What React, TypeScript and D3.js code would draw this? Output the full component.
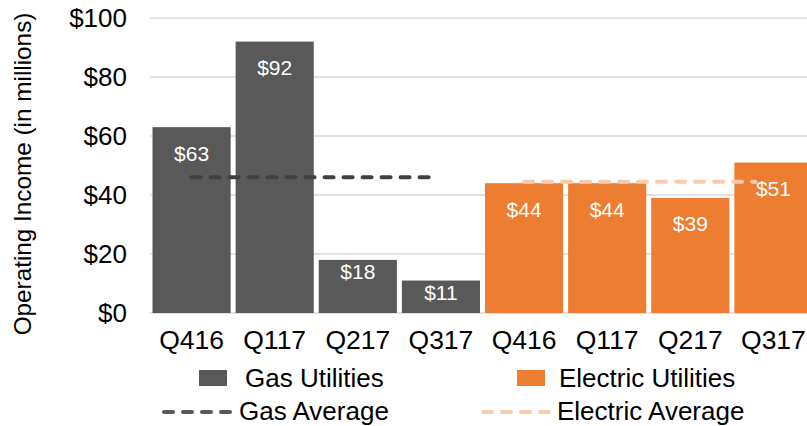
import React from "react";
import * as d3 from "d3";

// Data
const quarters = ["Q416", "Q117", "Q217", "Q317"];
const gasValues = [63, 92, 18, 11];
const electricValues = [44, 44, 39, 51];
const gasAverage = 46;
const electricAverage = 44.5;
const yTicks = [0, 20, 40, 60, 80, 100];

const GAS = "#595959";
const ELECTRIC = "#ED7D31";
const GAS_AVG = "#404040";
const ELECTRIC_AVG = "#F8CBAD";
const FONT = "'Liberation Sans', Arial, sans-serif";

const width = 807;
const height = 426;

export default function App() {
  // categories: gas quarters followed by electric quarters
  const bars = [
    ...quarters.map((q, i) => ({ key: `g${i}`, label: q, value: gasValues[i], color: GAS })),
    ...quarters.map((q, i) => ({ key: `e${i}`, label: q, value: electricValues[i], color: ELECTRIC })),
  ];

  const x = d3
    .scaleBand<string>()
    .domain(bars.map((d) => d.key))
    .range([150, 815])
    .paddingInner(0.06)
    .paddingOuter(0.03);
  const y = d3.scaleLinear().domain([0, 100]).range([313, 18]);
  const bw = x.bandwidth();

  // average lines span from centre of first bar to inside the last bar
  const avgLines = [
    { value: gasAverage, color: GAS_AVG, x1: x("g0")! + bw / 2, x2: x("g3")! + bw * 0.45 },
    { value: electricAverage, color: ELECTRIC_AVG, x1: x("e0")! + bw / 2, x2: x("e3")! + bw * 0.27 },
  ];

  return (
    <svg
      width={width}
      height={height}
      style={{ position: "absolute", left: 0, top: 0, background: "#fff" }}
      fontFamily={FONT}
    >
      {/* gridlines */}
      {yTicks.map((t) => (
        <line key={t} x1={150} x2={width} y1={y(t)} y2={y(t)} stroke="#D9D9D9" strokeWidth={1.5} />
      ))}

      {/* y tick labels */}
      {yTicks.map((t) => (
        <text key={t} x={127} y={y(t)} textAnchor="end" dominantBaseline="central" fontSize={26} fill="#000">
          {`$${t}`}
        </text>
      ))}

      {/* y axis title */}
      <text
        transform={`translate(22,${174}) rotate(-90)`}
        textAnchor="middle"
        dominantBaseline="central"
        fontSize={24.3}
        fill="#000"
      >
        Operating Income (in millions)
      </text>

      {/* bars */}
      {bars.map((d) => {
        const top = y(d.value);
        const h = y(0) - top;
        const off = h < 60 ? 12 : 26;
        return (
          <g key={d.key}>
            <rect x={x(d.key)} y={top} width={bw} height={h} fill={d.color} />
            <text
              x={x(d.key)! + bw / 2}
              y={top + off}
              textAnchor="middle"
              dominantBaseline="central"
              fontSize={21}
              fill="#fff"
            >
              {`$${d.value}`}
            </text>
            <text
              x={x(d.key)! + bw / 2}
              y={340}
              textAnchor="middle"
              dominantBaseline="central"
              fontSize={26.5}
              fill="#000"
            >
              {d.label}
            </text>
          </g>
        );
      })}

      {/* average lines */}
      {avgLines.map((l, i) => (
        <line
          key={i}
          x1={l.x1}
          x2={l.x2}
          y1={y(l.value)}
          y2={y(l.value)}
          stroke={l.color}
          strokeWidth={4}
          strokeDasharray="9 10"
          strokeLinecap="round"
        />
      ))}

      {/* legend */}
      <g fontSize={26} fill="#000">
        <rect x={199} y={370} width={28} height={16} fill={GAS} />
        <text x={245} y={378} dominantBaseline="central">Gas Utilities</text>
        <rect x={517} y={370} width={28} height={16} fill={ELECTRIC} />
        <text x={559} y={378} dominantBaseline="central">Electric Utilities</text>

        <line x1={164} x2={235} y1={412} y2={412} stroke={GAS} strokeWidth={4} strokeDasharray="9 10" strokeLinecap="round" />
        <text x={239} y={411} dominantBaseline="central">Gas Average</text>
        <line x1={483} x2={552} y1={412} y2={412} stroke={ELECTRIC_AVG} strokeWidth={4} strokeDasharray="9 10" strokeLinecap="round" />
        <text x={557} y={411} dominantBaseline="central">Electric Average</text>
      </g>
    </svg>
  );
}
